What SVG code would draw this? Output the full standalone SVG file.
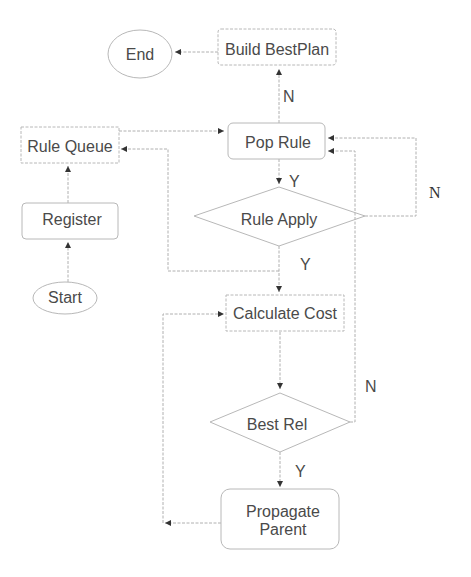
<svg xmlns="http://www.w3.org/2000/svg" width="471" height="577" viewBox="0 0 471 577">
<defs>
<marker id="ah" markerUnits="userSpaceOnUse" markerWidth="7" markerHeight="7" refX="6" refY="3.5" orient="auto">
<path d="M0,0.5 L6,3.5 L0,6.5 Z" fill="#333"/>
</marker>
</defs>
<style>
.n{fill:#fff;stroke:#b8b8b8;stroke-width:1}
.dm{fill:none;stroke:#b8b8b8;stroke-width:1}
.d{stroke-dasharray:3,1.5}
.t{font-family:"Liberation Sans",Arial,sans-serif;font-size:16px;fill:#4a4a4a;text-anchor:middle}
.l{font-family:"Liberation Sans",Arial,sans-serif;font-size:16px;fill:#4a4a4a}
.c{fill:none;stroke:#b0b0b0;stroke-width:1;stroke-dasharray:3,1.5;marker-end:url(#ah)}
</style>
<rect width="471" height="577" fill="#fff"/>
<g id="connectors">
<path class="c" d="M218,52 H175"/>
<path class="c" d="M279,123 V69"/>
<path class="c" d="M119,131 H224"/>
<path class="c" d="M279,159 V184"/>
<path class="c" d="M365,216 H416 V138 H328"/>
<path class="c" d="M279,246 V292"/>
<path class="c" d="M279,271 H168 V149 H121"/>
<path class="c" d="M68,282 V242"/>
<path class="c" d="M68,203 V166"/>
<path class="c" d="M280,332 V389"/>
<path class="c" d="M350,422 H355 V151 H328"/>
<path class="c" d="M280,452 V487"/>
<path class="c" d="M221,523 H165"/>
<path class="c" d="M163,523 V314 H224"/>
</g>
<g id="end"><ellipse class="n" cx="140" cy="54" rx="32" ry="24"/><text class="t" x="140" y="60">End</text></g>
<g id="build"><rect class="n d" x="218" y="29" width="118" height="36" rx="3"/><text class="t" x="277" y="55">Build BestPlan</text></g>
<g id="poprule"><rect class="n" x="228" y="123" width="97" height="36" rx="5"/><text class="t" x="278" y="148">Pop Rule</text></g>
<g id="rulequeue"><rect class="n d" x="21" y="127" width="98" height="36"/><text class="t" x="70" y="152">Rule Queue</text></g>
<g id="register"><rect class="n" x="22" y="203" width="96" height="36" rx="4"/><text class="t" x="72" y="225">Register</text></g>
<g id="start"><ellipse class="n" cx="65" cy="298" rx="32" ry="16"/><text class="t" x="65" y="303">Start</text></g>
<g id="ruleapply"><polygon class="dm" points="279,187 365,216 279,246 194,216"/><text class="t" x="279" y="225">Rule  Apply</text></g>
<g id="calccost"><rect class="n d" x="226" y="295" width="118" height="36"/><text class="t" x="285" y="319">Calculate Cost</text></g>
<g id="bestrel"><polygon class="dm" points="280,393 350,422 280,452 210,422"/><text class="t" x="277" y="430">Best Rel</text></g>
<g id="propagate"><rect class="n" x="221" y="489" width="118" height="60" rx="9"/><text class="t" x="283" y="517">Propagate</text><text class="t" x="283" y="535">Parent</text></g>
<g id="labels">
<text class="l" x="283" y="102">N</text>
<text class="l" x="289" y="187">Y</text>
<text class="l" x="300" y="270">Y</text>
<text x="429" y="198" style="font-family:'Liberation Serif',serif;font-size:16px;fill:#333">N</text>
<text class="l" x="365" y="392">N</text>
<text class="l" x="295" y="477">Y</text>
</g>
</svg>
